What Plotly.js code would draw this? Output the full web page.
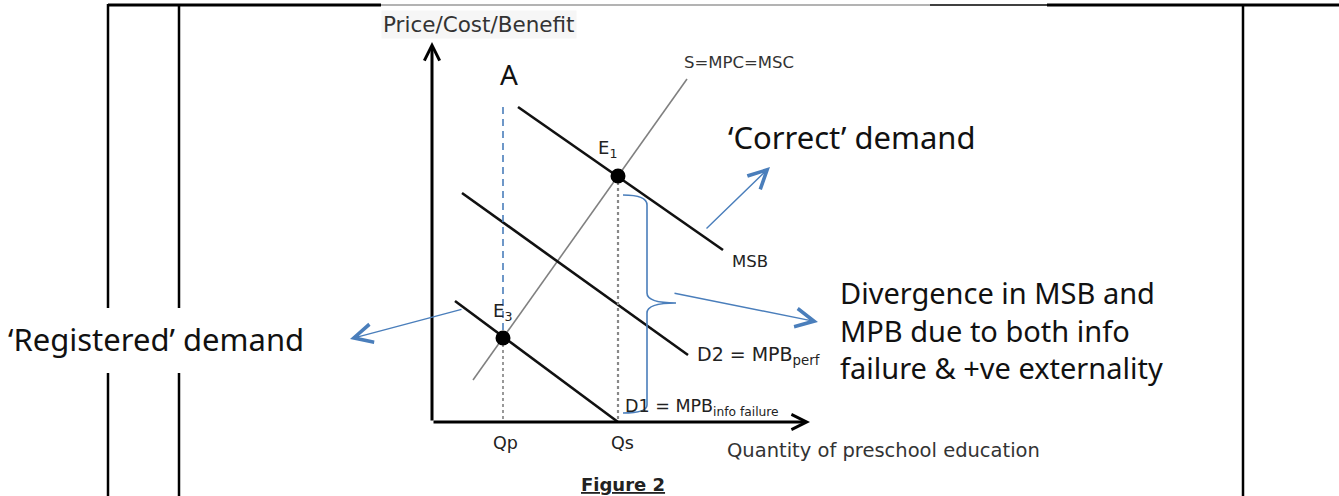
<!DOCTYPE html>
<html>
<head>
<meta charset="utf-8">
<script src="https://cdn.plot.ly/plotly-3.0.1.min.js"></script>
<style>html,body{margin:0;padding:0;background:#fff;}#chart{width:1339px;height:496px;}</style>
</head>
<body>
<div id="chart"></div>
<script>
// ---- Data (quantity / price units, origin at axes corner) ----
const eqLabels = ["E<sub>1</sub>", "E<sub>3</sub>"];
const eqQ = [186, 71];          // Qs, Qp
const eqP = [246, 84];
const qTicks = ["Qp", "Qs"];
const qTickVals = [73, 190];
const supplyQ = [41, 255];
const supplyP = [42, 343];
const msbQ = [86, 291];
const msbP = [315, 172];
const d2Q = [30, 256];
const d2P = [229, 67];
const d1Q = [23, 186];
const d1P = [121, 0];
const aTopP = 315;              // top of dashed line at A
const axisQmax = 378, axisPmax = 380;

// pixel helpers (layout only)
const OX = 432, OY = 422;
const X = px => px - OX;
const Y = py => OY - py;

const BLUE = '#4a7ebb';
const FIG_FONT = 'DejaVu Sans';
const BIG_FONT = 'Noto Sans';

const traces = [
  {x: supplyQ, y: supplyP, mode: 'lines', line: {color: '#808080', width: 1.6}},
  {x: msbQ, y: msbP, mode: 'lines', line: {color: '#111', width: 2.6}},
  {x: d2Q, y: d2P, mode: 'lines', line: {color: '#111', width: 2.6}},
  {x: d1Q, y: d1P, mode: 'lines', line: {color: '#111', width: 2.6}},
  // dashed verticals
  {x: [eqQ[1], eqQ[1]], y: [aTopP, eqP[1]], mode: 'lines', line: {color: BLUE, width: 1.6, dash: '7px,5px'}},
  {x: [eqQ[1], eqQ[1]], y: [eqP[1], 0], mode: 'lines', line: {color: '#555', width: 1.2, dash: '3px,3px'}},
  {x: [eqQ[0], eqQ[0]], y: [eqP[0], 0], mode: 'lines', line: {color: '#888', width: 2.2, dash: '3px,3px'}},
  {x: eqQ, y: eqP, mode: 'markers', marker: {color: '#000', size: 15}}
];

function txt(text, px, py, opts) {
  opts = opts || {};
  return Object.assign({
    text: text, x: X(px), y: Y(py), xref: 'x', yref: 'y', showarrow: false,
    xanchor: 'left', yanchor: 'middle',
    font: {family: FIG_FONT, size: 16, color: '#222'}
  }, opts);
}
function arrow(tx, ty, hx, hy, opts) {
  opts = opts || {};
  return Object.assign({
    text: '', x: X(hx), y: Y(hy), ax: X(tx), ay: Y(ty), xref: 'x', yref: 'y', axref: 'x', ayref: 'y',
    showarrow: true, arrowhead: 5, arrowsize: 2.6, arrowwidth: 1.4, arrowcolor: BLUE, standoff: 0, startstandoff: 0
  }, opts);
}

const annotations = [
  txt('Price/Cost/Benefit', 479, 24, {xanchor: 'center', font: {family: FIG_FONT, size: 21.5, color: '#333'}, bgcolor: '#f6f6f6'}),
  txt('A', 509, 74, {xanchor: 'center', font: {family: BIG_FONT, size: 28, color: '#111'}}),
  txt('S=MPC=MSC', 682, 62, {font: {family: FIG_FONT, size: 16.5, color: '#333'}}),
  txt(eqLabels[0], 607, 149, {xanchor: 'center', font: {family: FIG_FONT, size: 18, color: '#222'}}),
  txt(eqLabels[1], 502, 312, {xanchor: 'center', font: {family: FIG_FONT, size: 18, color: '#222'}}),
  txt('‘Correct’ demand', 726, 137, {font: {family: BIG_FONT, size: 31, color: '#111'}}),
  txt('MSB', 730, 261, {font: {family: FIG_FONT, size: 16.5, color: '#222'}}),
  txt('Divergence in MSB and<br>MPB due to both info<br>failure &amp; +ve externality', 838, 330, {align: 'left', font: {family: BIG_FONT, size: 29, color: '#111'}}),
  txt('D2 = MPB<sub>perf</sub>', 695, 355, {font: {family: FIG_FONT, size: 19, color: '#222'}}),
  txt('D1 = MPB<sub>info failure</sub>', 623, 407, {font: {family: FIG_FONT, size: 17.5, color: '#222'}}),
  txt(qTicks[0], OX + qTickVals[0], 443, {xanchor: 'center', font: {family: FIG_FONT, size: 17.5, color: '#222'}}),
  txt(qTicks[1], OX + qTickVals[1], 443, {xanchor: 'center', font: {family: FIG_FONT, size: 17.5, color: '#222'}}),
  txt('Quantity of preschool education', 725, 450, {font: {family: FIG_FONT, size: 19.5, color: '#333'}}),
  txt('<b><u>Figure 2</u></b>', 623, 484, {xanchor: 'center', font: {family: FIG_FONT, size: 18, color: '#222'}}),
  txt('‘Registered’ demand', 6, 339, {font: {family: BIG_FONT, size: 31, color: '#111'}}),
  // axes arrows
  {text: '', x: 0, y: axisPmax, ax: 0, ay: 0, xref: 'x', yref: 'y', axref: 'x', ayref: 'y', showarrow: true,
   arrowhead: 5, arrowsize: 1, arrowwidth: 3, arrowcolor: '#000', standoff: 0},
  {text: '', x: axisQmax, y: 0, ax: 0, ay: 0, xref: 'x', yref: 'y', axref: 'x', ayref: 'y', showarrow: true,
   arrowhead: 5, arrowsize: 1, arrowwidth: 3, arrowcolor: '#000', standoff: 0},
  // blue pointer arrows
  arrow(705, 230, 770, 167),
  arrow(673, 293, 818, 322),
  arrow(463, 309, 350, 339)
];

// brace (pixel layout -> data units)
const bx0 = X(623), bx1 = X(647), btip = X(676);
const by0 = Y(195), bym = Y(303), by1 = Y(413);
const bracePath = `M${bx0},${by0} Q${bx1},${by0} ${bx1},${by0-10} L${bx1},${bym+10} Q${bx1},${bym} ${btip},${bym} ` +
  `Q${bx1},${bym} ${bx1},${bym-10} L${bx1},${by1+8} Q${bx1},${by1} ${bx0},${by1}`;

function seg(x0, y0, x1, y1, color, width) {
  return {type: 'line', xref: 'x', yref: 'y', x0: X(x0), y0: Y(y0), x1: X(x1), y1: Y(y1), line: {color: color, width: width}};
}
const shapes = [
  // table borders
  seg(108, 5, 381, 5, '#000', 3),
  seg(381, 5, 930, 5, '#9a9a9a', 1.5),
  seg(930, 5, 1047, 5, '#000', 1.5),
  seg(1047, 5, 1339, 5, '#000', 3),
  seg(108, 4, 108, 308, '#000', 2.5),
  seg(108, 373, 108, 496, '#000', 2.5),
  seg(179, 4, 179, 308, '#000', 2.5),
  seg(179, 373, 179, 496, '#000', 2.5),
  seg(1243, 4, 1243, 496, '#000', 2.5),
  // brace
  {type: 'path', xref: 'x', yref: 'y', path: bracePath, line: {color: BLUE, width: 1.6}}
];

const layout = {
  width: 1339, height: 496,
  margin: {l: 0, r: 0, t: 0, b: 0},
  paper_bgcolor: '#fff', plot_bgcolor: '#fff',
  showlegend: false,
  xaxis: {range: [X(0), X(1339)], visible: false, fixedrange: true},
  yaxis: {range: [Y(496), Y(0)], visible: false, fixedrange: true},
  annotations: annotations,
  shapes: shapes
};

Plotly.newPlot('chart', traces, layout, {staticPlot: true, displayModeBar: false});
</script>
</body>
</html>
